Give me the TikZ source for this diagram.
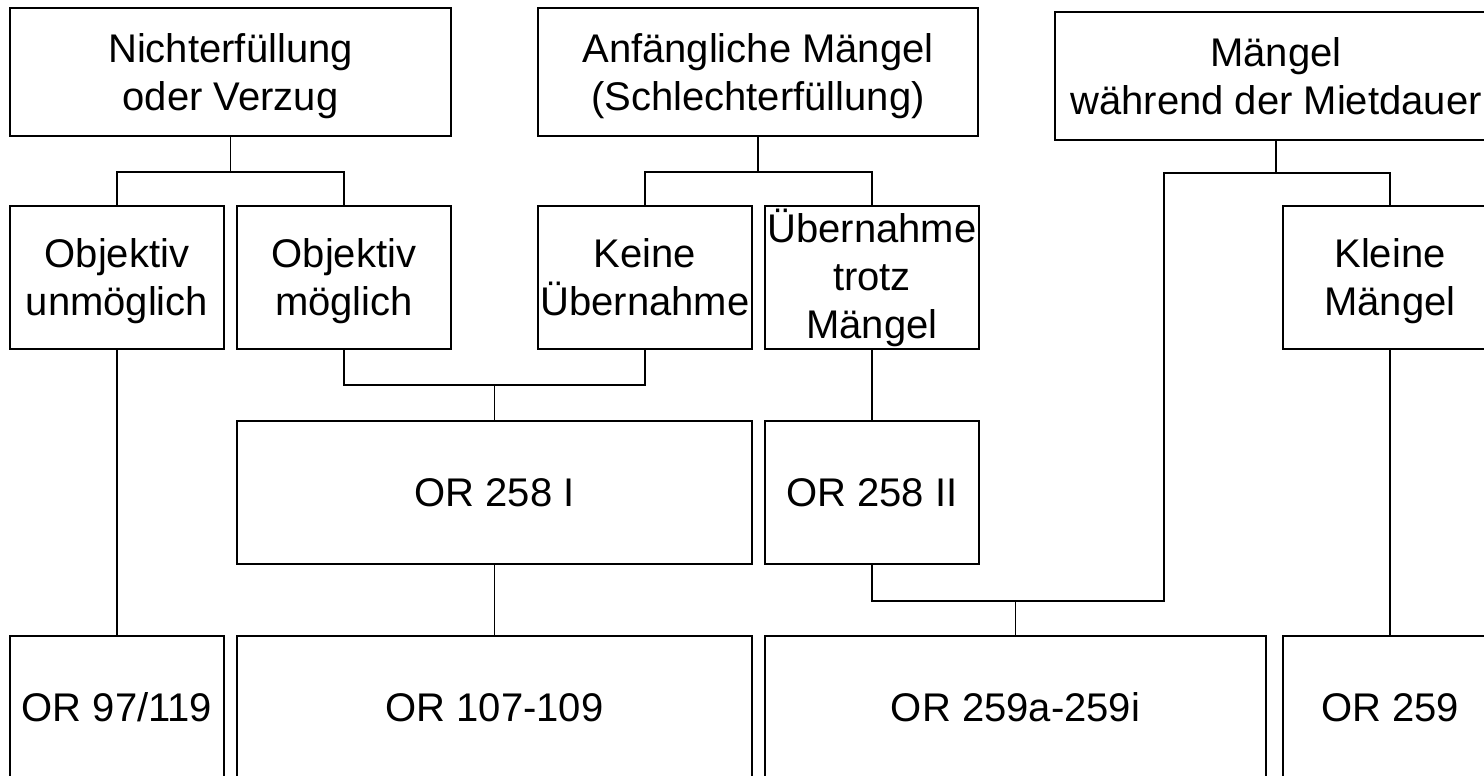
\documentclass[tikz,border=0pt]{standalone}
\usepackage{fontspec}
\setmainfont{Liberation Sans}
\begin{document}
\begin{tikzpicture}[x=0.5pt,y=-0.5pt,
  box/.style={draw=black, line width=0.9pt, fill=white, align=center, inner sep=0pt,
    text depth=0pt, font=\fontsize{20}{24}\selectfont},
  wide/.style={minimum height=64pt},
  std/.style={minimum width=107pt, minimum height=71.5pt},
  conn/.style={draw=black, line width=0.9pt}]
\useasboundingbox (0,0) rectangle (1484,776);
\clip (0,0) rectangle (1484,776);
% top row
\node[box, wide, minimum width=220.5pt] (A) at (230.5,72) {Nichterfüllung\\oder Verzug};
\node[box, wide, minimum width=220pt] (B) at (758,72) {Anfängliche Mängel\\(Schlechterfüllung)};
\node[box, wide, minimum width=221pt] (C) at (1276,76) {Mängel\\während der Mietdauer};
% second row
\node[box, std] (D) at (117,277.5) {Objektiv\\unmöglich};
\node[box, std] (E) at (344,277.5) {Objektiv\\möglich};
\node[box, std] (F) at (645,277.5) {Keine\\Übernahme};
\node[box, std, text depth={}] (G) at (872,277.5) {Übernahme\\trotz\\Mängel};
\node[box, std] (H) at (1390,277.5) {Kleine\\Mängel};
% third row
\node[box, std, minimum width=257.5pt] (I) at (494.5,492.5) {OR 258 I};
\node[box, std] (J) at (872,492.5) {OR 258 II};
% bottom row
\node[box, std] (K) at (117,707.5) {OR 97/119};
\node[box, std, minimum width=257.5pt] (L) at (494.5,707.5) {OR 107-109};
\node[box, std, minimum width=250.5pt] (M) at (1015.5,707.5) {OR 259a-259i};
\node[box, std] (N) at (1390,707.5) {OR 259};
% junction coordinates
\coordinate (ab) at (230.5,172);
\coordinate (bb) at (758,172);
\coordinate (cb) at (1276,173);
\coordinate (cl) at (1164,173);
\coordinate (cd) at (1164,601);
\coordinate (ef) at (494.5,385);
% connectors
\draw[conn] (A.south) -- (ab);
\draw[conn] (D.north) |- (ab) -| (E.north);
\draw[conn] (B.south) -- (bb);
\draw[conn] (F.north) |- (bb) -| (G.north);
\draw[conn] (C.south) -- (cb);
\draw[conn] (H.north) |- (cb) -- (cl) -- (cd) -| (J.south);
\draw[conn] (M.north) -- (M.north |- cd);
\draw[conn] (E.south) |- (ef) -| (F.south);
\draw[conn] (ef) -- (I.north);
\draw[conn] (I.south) -- (L.north);
\draw[conn] (D.south) -- (K.north);
\draw[conn] (H.south) -- (N.north);
\draw[conn] (G.south) -- (J.north);
\end{tikzpicture}
\end{document}
